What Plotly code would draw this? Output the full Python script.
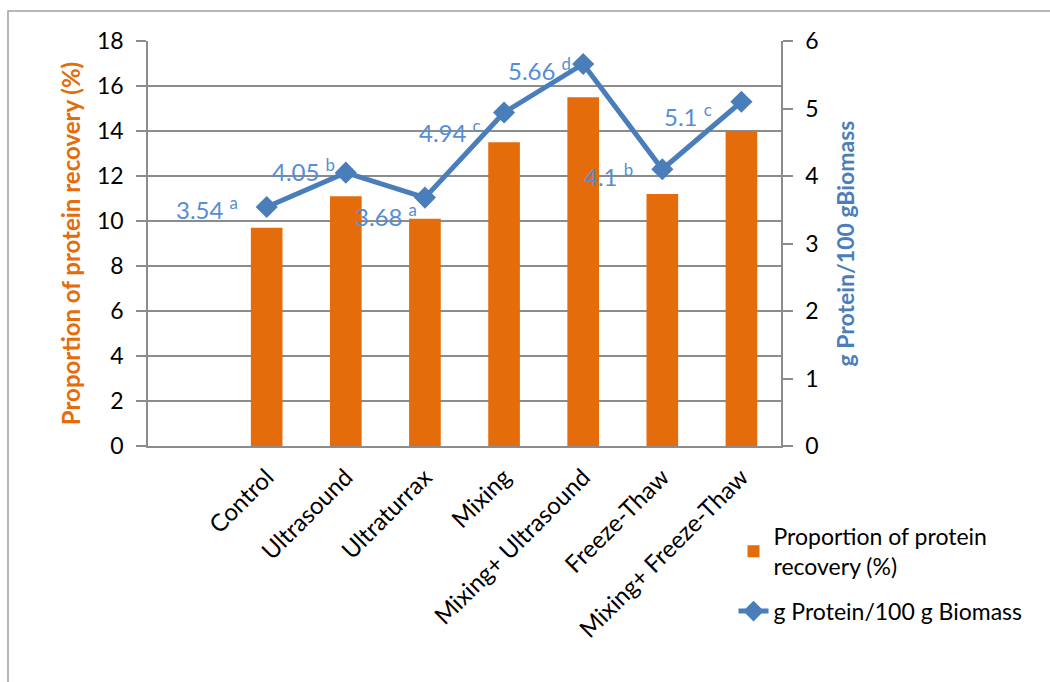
import plotly.graph_objects as go

categories = ["Control", "Ultrasound", "Ultraturrax", "Mixing", "Mixing+ Ultrasound", "Freeze-Thaw", "Mixing+ Freeze-Thaw"]
recovery_pct = [9.7, 11.1, 10.1, 13.5, 15.5, 11.2, 14.0]
protein_g = [3.54, 4.05, 3.68, 4.94, 5.66, 4.1, 5.1]
letters = ["a", "b", "a", "c", "d", "b", "c"]

# label offsets in pixels (styling)
label_dx = [-27, -9, -6, -21, -10, -27, -27]
label_dy = [-1, 3, -17, -18, -5, -6, -13]

x_pos = list(range(1, len(categories) + 1))

ORANGE = "#E46C0A"
BLUE = "#4A7EBB"
LBLUE = "#558ED5"
GRID = "#8C8C8C"
FONT = "Lato"

fig = go.Figure()
fig.add_trace(go.Bar(
    x=x_pos, y=recovery_pct, name="Proportion of protein<br>recovery (%)",
    marker=dict(color=ORANGE, line=dict(width=0)), width=0.4, yaxis="y",
    legendgroup="a",
))
fig.add_trace(go.Scatter(
    x=x_pos, y=protein_g, name="g Protein/100 g Biomass", yaxis="y2",
    mode="lines+markers", line=dict(color=BLUE, width=5),
    marker=dict(symbol="diamond", size=17, color=BLUE), legendgroup="b",
))

for xv, yv, lt, dx, dy in zip(x_pos, protein_g, letters, label_dx, label_dy):
    fig.add_annotation(
        x=xv, y=yv, xref="x", yref="y2", text=f"{yv:g} <sup>{lt}</sup>",
        showarrow=False, xanchor="right", yanchor="middle", xshift=dx, yshift=dy,
        font=dict(family=FONT, size=24, color=LBLUE),
    )

fig.add_shape(type="rect", xref="paper", yref="paper",
              x0=(8 - 148) / 633, x1=1.5, y0=-0.7, y1=(446 - 11) / 405,
              line=dict(color="#A0A0A0", width=1.5), fillcolor="rgba(0,0,0,0)", layer="below")

fig.update_layout(
    width=1050, height=682,
    margin=dict(l=148, r=269, t=41, b=236),
    paper_bgcolor="white", plot_bgcolor="white",
    font=dict(family=FONT, size=24, color="black"),
    showlegend=True,
    legend=dict(x=0.925, y=-0.17, xanchor="left", yanchor="top",
                font=dict(family=FONT, size=23, color="black"),
                bgcolor="rgba(0,0,0,0)", traceorder="grouped", tracegroupgap=12),
    xaxis=dict(
        range=[-0.5, 7.5], tickmode="array", tickvals=x_pos, ticktext=categories,
        tickangle=-45, showgrid=False, zeroline=False, showline=True,
        linecolor=GRID, linewidth=1.5, ticks="", tickfont=dict(family=FONT, size=24),
        ticklabelstandoff=6,
    ),
    yaxis=dict(
        range=[0, 18], dtick=2, showgrid=True, gridcolor=GRID, gridwidth=1.5,
        zeroline=False, showline=True, linecolor=GRID, linewidth=1.5,
        ticks="outside", ticklen=10, tickcolor=GRID, tickwidth=1.5,
        tickfont=dict(family=FONT, size=23), ticklabelstandoff=8,
        title=dict(text="<b>Proportion of protein recovery (%)</b>", standoff=10,
                   font=dict(family=FONT, size=24, color=ORANGE)),
    ),
    yaxis2=dict(
        range=[0, 6], dtick=1, overlaying="y", side="right", showgrid=False,
        zeroline=False, showline=True, linecolor=GRID, linewidth=1.5,
        ticks="outside", ticklen=10, tickcolor=GRID, tickwidth=1.5,
        tickfont=dict(family=FONT, size=23), ticklabelstandoff=8,
        title=dict(text="<b>g Protein/100 gBiomass</b>", standoff=20,
                   font=dict(family=FONT, size=23, color=BLUE)),
    ),
)

fig.write_html("out.html")
